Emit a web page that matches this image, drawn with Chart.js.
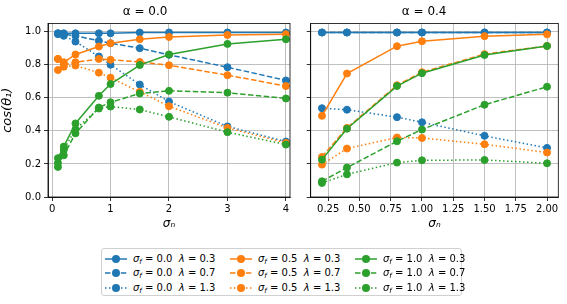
<!DOCTYPE html>
<html>
<head>
<meta charset="utf-8">
<script src="https://cdn.jsdelivr.net/npm/chart.js@4"></script>
<style>
  body { margin: 0; background: #fff; width: 567px; height: 304px; overflow: hidden; position: relative; font-family: "DejaVu Sans", sans-serif; }
  canvas { position: absolute; top: 0; }
  #legend { position: absolute; left: 101px; top: 248px; width: 361px; height: 48px; border: 1px solid #d0d0d0; border-radius: 3px; box-sizing: border-box; }
  .item { position: absolute; height: 14px; font-size: 10px; line-height: 14px; white-space: nowrap; color: #000; }
  .item svg { position: absolute; left: 0; top: 0; }
  .item span { position: absolute; left: 29px; top: 0; }
  sub { font-size: 7px; vertical-align: -2px; line-height: 0; }
</style>
</head>
<body>
<canvas id="left" width="300" height="240" style="left:0px"></canvas>
<canvas id="right" width="277" height="240" style="left:290px"></canvas>
<div id="legend"></div>

<script>
// x positions (sigma_n)
const xLeft = [0.1, 0.2, 0.4, 0.8, 1.0, 1.5, 2.0, 3.0, 4.0];
const xRight = [0.2, 0.4, 0.8, 1.0, 1.5, 2.0];

const sigmaF = ['0.0', '0.5', '1.0'];
const lambdas = ['0.3', '0.7', '1.3'];
const colors = ['#1f77b4', '#ff7f0e', '#2ca02c'];
const dashes = [[], [5.5, 2.4], [1.5, 2.5]];

const yTicks = [0, 0.2, 0.4, 0.6, 0.8, 1.0];
const xTicksLeft = [0, 1, 2, 3, 4];
const xTicksRight = [0.25, 0.5, 0.75, 1.0, 1.25, 1.5, 1.75, 2.0];

// alpha = 0.0
const a0_s00_l03 = [0.99, 0.99, 0.99, 0.99, 0.99, 0.995, 0.995, 0.995, 0.995];
const a0_s00_l07 = [0.99, 0.985, 0.975, 0.945, 0.93, 0.90, 0.86, 0.785, 0.705];
const a0_s00_l13 = [0.985, 0.975, 0.94, 0.85, 0.80, 0.68, 0.577, 0.427, 0.335];
const a0_s05_l03 = [0.835, 0.815, 0.862, 0.91, 0.93, 0.954, 0.968, 0.98, 0.985];
const a0_s05_l07 = [0.835, 0.80, 0.815, 0.835, 0.83, 0.817, 0.797, 0.737, 0.671];
const a0_s05_l13 = [0.768, 0.788, 0.795, 0.752, 0.722, 0.636, 0.549, 0.418, 0.327];
const a0_s10_l03 = [0.235, 0.305, 0.445, 0.612, 0.683, 0.798, 0.862, 0.926, 0.954];
const a0_s10_l07 = [0.205, 0.252, 0.385, 0.541, 0.573, 0.626, 0.642, 0.631, 0.596];
const a0_s10_l13 = [0.182, 0.285, 0.41, 0.535, 0.547, 0.529, 0.485, 0.392, 0.317];

// alpha = 0.4
const a4_s00_l03 = [0.995, 0.995, 0.995, 0.995, 0.995, 0.995];
const a4_s00_l07 = [0.995, 0.995, 0.995, 0.995, 0.995, 0.995];
const a4_s00_l13 = [0.537, 0.528, 0.483, 0.452, 0.37, 0.297];
const a4_s05_l03 = [0.491, 0.747, 0.912, 0.942, 0.973, 0.984];
const a4_s05_l07 = [0.242, 0.418, 0.676, 0.755, 0.864, 0.914];
const a4_s05_l13 = [0.196, 0.293, 0.36, 0.357, 0.319, 0.269];
const a4_s10_l03 = [0.226, 0.413, 0.671, 0.749, 0.859, 0.913];
const a4_s10_l07 = [0.095, 0.178, 0.337, 0.408, 0.558, 0.667];
const a4_s10_l13 = [0.085, 0.137, 0.208, 0.222, 0.224, 0.204];

const leftSeries = [a0_s00_l03, a0_s00_l07, a0_s00_l13, a0_s05_l03, a0_s05_l07, a0_s05_l13, a0_s10_l03, a0_s10_l07, a0_s10_l13];
const rightSeries = [a4_s00_l03, a4_s00_l07, a4_s00_l13, a4_s05_l03, a4_s05_l07, a4_s05_l13, a4_s10_l03, a4_s10_l07, a4_s10_l13];

function makeDatasets(xs, series) {
    return series.map(function (ys, i) {
        const c = colors[Math.floor(i / 3)];
        return {
            label: 'σf = ' + sigmaF[Math.floor(i / 3)] + ' λ = ' + lambdas[i % 3],
            data: xs.map((x, k) => ({ x: x, y: ys[k] })),
            borderColor: c,
            backgroundColor: c,
            borderWidth: 1.5,
            borderDash: dashes[i % 3],
            pointRadius: 3.5,
            pointBorderWidth: 1,
            pointBorderColor: c,
            pointBackgroundColor: c,
            tension: 0,
            order: series.length - i   // later series on top, like matplotlib
        };
    });
}

// full box around the axes
const frame = {
    id: 'frame',
    afterDraw(chart) {
        const a = chart.chartArea, ctx = chart.ctx;
        ctx.save();
        ctx.strokeStyle = '#000';
        ctx.lineWidth = 0.8;
        ctx.strokeRect(a.left, a.top, a.right - a.left, a.bottom - a.top);
        ctx.restore();
    }
};

function makeChart(id, title, xs, series, xTicks, xMin, xMax, yWidth, padRight, showY, xFmt) {
    const gridOpts = { color: '#b0b0b0', lineWidth: 0.8, tickColor: '#000', tickWidth: 0.8, tickLength: 4 };
    return new Chart(document.getElementById(id), {
        type: 'line',
        data: { datasets: makeDatasets(xs, series) },
        options: {
            responsive: false,
            animation: false,
            layout: { padding: { left: 0, right: padRight, top: 0, bottom: 0 } },
            plugins: {
                legend: { display: false },
                tooltip: { enabled: false },
                title: {
                    display: true, text: title, color: '#000',
                    font: { family: 'DejaVu Sans', size: 12, weight: 'normal' },
                    padding: { top: 5, bottom: 4 }
                }
            },
            scales: {
                x: {
                    type: 'linear', min: xMin, max: xMax,
                    afterBuildTicks: s => { s.ticks = xTicks.map(v => ({ value: v })); },
                    afterFit: s => { s.height = 43; },
                    grid: gridOpts,
                    border: { color: '#000', width: 0.8 },
                    ticks: { color: '#000', padding: 2, maxRotation: 0, autoSkip: false,
                             font: { family: 'DejaVu Sans', size: 10 }, callback: xFmt },
                    title: { display: true, text: 'σₙ', color: '#000', padding: { top: 0, bottom: 9 },
                             font: { family: 'DejaVu Sans', size: 12, style: 'italic' } }
                },
                y: {
                    type: 'linear', min: 0, max: 1.05,
                    afterBuildTicks: s => { s.ticks = yTicks.map(v => ({ value: v })); },
                    afterFit: s => { s.width = yWidth; },
                    grid: gridOpts,
                    border: { color: '#000', width: 0.8 },
                    ticks: { display: showY, color: '#000', padding: 3,
                             font: { family: 'DejaVu Sans', size: 10 }, callback: v => v.toFixed(1) },
                    title: { display: showY, text: 'cos(θ₁)', color: '#000', padding: 0,
                             font: { family: 'DejaVu Sans', size: 13, style: 'italic' } }
                }
            }
        },
        plugins: [frame]
    });
}

makeChart('left', 'α = 0.0', xLeft, leftSeries, xTicksLeft, -0.07, 4.07, 48, 10, true, v => String(v));
makeChart('right', 'α = 0.4', xRight, rightSeries, xTicksRight, 0.11, 2.09, 20.7, 8.7, false, v => v.toFixed(2));

// legend below the panels
const legend = document.getElementById('legend');
const colX = [2, 127, 252];
const rowY = [3, 17, 32];
for (let s = 0; s < 3; s++) {
    for (let l = 0; l < 3; l++) {
        const d = document.createElement('div');
        d.className = 'item';
        d.style.left = colX[s] + 'px';
        d.style.top = rowY[l] + 'px';
        const dash = dashes[l].length ? 'stroke-dasharray="' + dashes[l].join(' ') + '"' : '';
        d.innerHTML =
            '<svg width="24" height="14"><line x1="1" y1="7" x2="23" y2="7" stroke="' + colors[s] + '" stroke-width="1.5" ' + dash + '/>' +
            '<circle cx="12" cy="7" r="4" fill="' + colors[s] + '"/></svg>' +
            '<span><i>σ<sub>f</sub></i> = ' + sigmaF[s] + '&nbsp; <i>λ</i> = ' + lambdas[l] + '</span>';
        legend.appendChild(d);
    }
}
</script>
</body>
</html>
